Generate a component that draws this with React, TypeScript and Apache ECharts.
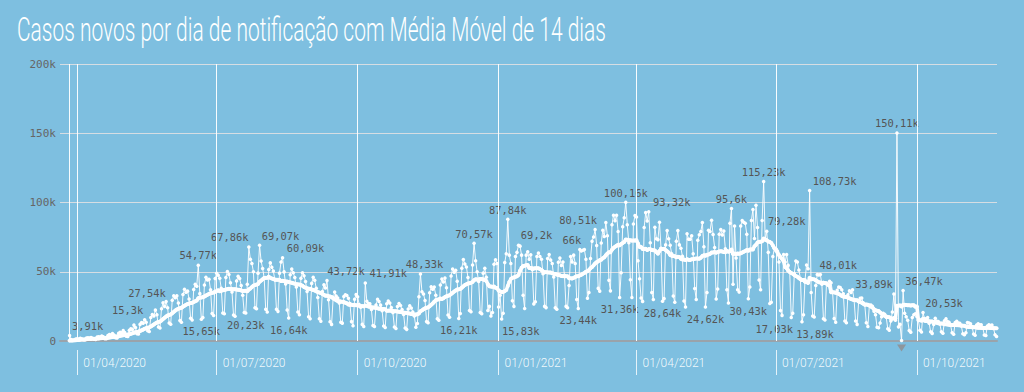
import React, { useEffect, useRef } from "react";
import * as echarts from "echarts";

// ---------------- data ----------------
const TITLE = "Casos novos por dia de notificação com Média Móvel de 14 dias";
const FIRST_DAY = "2020-03-27";
const AVG_WINDOW = 14;

// daily new cases, in thousands, one row per week (Fri..Thu), from 27/03/2020
const dailyCasesK: number[] = [
  3.91, 1.0, 0.6, 0.8, 1.4, 1.6, 1.5,
  1.9, 1.5, 0.9, 1.0, 2.1, 2.3, 2.1,
  2.5, 2.0, 1.2, 1.1, 2.8, 3.0, 2.9,
  3.6, 3.0, 1.7, 1.6, 4.0, 4.6, 4.3,
  5.4, 4.4, 2.4, 2.2, 5.5, 6.3, 6.0,
  7.6, 6.2, 3.4, 3.2, 7.7, 8.9, 8.3,
  11.6, 9.8, 5.2, 5.0, 12.0, 13.4, 12.8,
  15.3, 13.6, 7.4, 6.9, 17.0, 19.2, 18.1,
  22.3, 19.0, 10.1, 9.4, 23.3, 27.54, 25.0,
  28.5, 24.0, 13.0, 12.1, 29.4, 32.6, 31.3,
  32.7, 27.5, 14.8, 13.6, 33.5, 37.4, 35.2,
  36.0, 30.4, 16.4, 15.1, 37.2, 41.0, 39.5,
  54.77, 34.2, 15.65, 17.0, 40.5, 46.0, 44.1,
  44.5, 37.0, 19.8, 18.4, 45.1, 48.9, 47.5,
  45.3, 38.0, 20.2, 19.6, 45.9, 50.2, 48.0,
  42.0, 35.4, 18.7, 17.9, 43.4, 46.8, 45.2,
  40.0, 33.0, 20.6, 20.23, 41.0, 67.86, 59.0,
  55.9, 50.0, 24.0, 23.3, 49.0, 69.07, 57.8,
  52.4, 45.7, 23.0, 21.0, 51.6, 56.4, 53.3,
  50.5, 44.0, 23.0, 21.4, 49.0, 57.0, 60.09,
  49.9, 41.2, 22.4, 16.64, 47.8, 52.0, 49.3,
  45.8, 39.0, 21.0, 19.0, 45.3, 49.3, 47.1,
  43.0, 35.8, 17.5, 16.0, 41.6, 46.0, 43.8,
  38.0, 31.4, 16.0, 14.3, 35.8, 40.6, 38.2,
  43.72, 29.8, 13.9, 12.0, 30.5, 35.3, 32.4,
  31.0, 27.5, 13.6, 12.9, 32.1, 33.4, 32.8,
  30.9, 27.0, 14.0, 11.0, 30.2, 33.5, 31.9,
  26.4, 24.3, 12.0, 10.5, 41.91, 28.7, 27.1,
  26.9, 22.8, 11.2, 10.4, 26.0, 30.1, 28.5,
  25.9, 21.8, 10.8, 9.7, 26.9, 28.8, 27.5,
  24.2, 20.5, 10.1, 9.0, 24.9, 27.0, 25.7,
  22.7, 19.2, 9.4, 8.4, 23.1, 25.4, 23.9,
  21.0, 18.0, 10.0, 12.6, 32.0, 48.33, 35.5,
  34.0, 29.3, 14.0, 13.1, 34.9, 39.1, 37.3,
  39.0, 33.0, 16.1, 15.0, 40.5, 44.7, 42.6,
  45.5, 38.4, 18.7, 17.2, 47.0, 52.0, 49.7,
  51.1, 43.2, 16.21, 19.9, 52.6, 58.9, 55.6,
  53.5, 45.9, 22.0, 21.1, 54.8, 70.57, 58.0,
  50.0, 42.9, 20.5, 19.6, 49.0, 52.5, 46.0,
  22.0, 25.0, 18.0, 20.5, 55.4, 58.7, 56.0,
  24.6, 33.1, 15.83, 20.0, 56.6, 63.0, 87.84,
  62.0, 56.0, 29.0, 25.0, 61.0, 64.0, 69.2,
  68.5, 62.0, 33.0, 23.5, 62.0, 64.4, 59.0,
  62.2, 51.4, 26.8, 28.3, 61.0, 63.5, 61.0,
  59.0, 48.5, 25.0, 24.1, 59.6, 62.5, 58.5,
  56.0, 46.2, 24.0, 23.0, 56.9, 59.9, 54.5,
  57.0, 47.5, 25.0, 24.0, 40.0, 61.0, 57.0,
  62.0, 56.0, 30.0, 23.44, 66.0, 65.0, 65.5,
  66.0, 59.0, 30.8, 35.0, 59.6, 72.0, 75.1,
  80.51, 69.0, 38.0, 36.0, 70.8, 79.9, 75.4,
  85.6, 76.0, 43.8, 36.2, 84.0, 90.8, 86.9,
  90.8, 79.1, 31.36, 49.3, 82.5, 89.0, 100.16,
  84.0, 71.0, 44.3, 31.4, 84.5, 90.6, 89.5,
  58.0, 45.0, 31.0, 28.6, 82.0, 92.7, 86.7,
  93.32, 71.0, 35.0, 30.0, 82.2, 73.8, 73.2,
  85.8, 67.0, 28.64, 30.6, 69.4, 79.7, 73.9,
  69.1, 63.0, 32.5, 28.0, 72.1, 79.7, 69.4,
  67.0, 61.1, 28.9, 24.6, 77.4, 73.4, 73.4,
  76.0, 63.0, 37.9, 30.0, 72.7, 76.7, 79.0,
  85.5, 68.0, 24.62, 35.0, 80.0, 79.0, 87.2,
  76.9, 67.5, 30.3, 37.5, 77.0, 80.5, 76.5,
  79.4, 66.6, 37.0, 27.5, 85.0, 95.6, 41.0,
  83.0, 60.0, 37.0, 35.3, 83.0, 87.0, 85.7,
  85.0, 77.0, 30.43, 39.0, 87.0, 95.0, 74.0,
  98.0, 82.0, 44.0, 37.0, 87.0, 115.23, 73.6,
  79.28, 64.0, 27.0, 28.0, 61.0, 67.0, 65.2,
  65.0, 57.0, 22.0, 18.5, 62.5, 57.0, 62.4,
  54.6, 50.0, 17.03, 20.0, 48.8, 57.7, 57.1,
  51.2, 45.0, 13.89, 18.9, 44.2, 54.8, 52.2,
  108.73, 35.0, 18.0, 17.4, 40.0, 48.01, 47.6,
  48.0, 41.0, 16.1, 15.2, 41.2, 40.7, 43.1,
  42.0, 35.0, 16.2, 13.6, 36.7, 39.0, 38.6,
  37.0, 34.1, 14.4, 13.1, 33.4, 36.3, 35.0,
  37.0, 30.0, 14.4, 12.0, 28.4, 30.9, 31.0,
  27.6, 26.0, 13.2, 10.5, 25.6, 26.0, 25.1,
  21.5, 19.0, 10.0, 9.5, 13.0, 17.5, 20.0,
  19.3, 17.2, 8.8, 7.7, 14.4, 20.9, 33.89,
  15.0, 150.11, 10.2, 12.0, 0.4, 36.47, 20.0,
  17.5, 15.0, 7.6, 6.4, 16.9, 19.0, 19.6,
  17.6, 14.8, 7.8, 6.5, 20.53, 16.2, 15.9,
  17.0, 12.9, 6.6, 5.5, 12.0, 16.4, 14.3,
  14.0, 12.2, 6.6, 5.6, 14.6, 16.0, 14.0,
  13.5, 11.4, 5.9, 4.9, 13.3, 14.3, 13.0,
  12.8, 10.9, 5.2, 4.5, 6.0, 13.3, 13.0,
  12.4, 10.5, 5.0, 4.2, 11.6, 12.4, 11.8,
  11.8, 9.8, 4.4, 4.0, 10.9, 11.7, 11.2,
  11.5, 9.3, 4.5, 3.2,
];

const tickDates = ["2020-04-01", "2020-07-01", "2020-10-01", "2021-01-01", "2021-04-01", "2021-07-01", "2021-10-01"];
const yTicks = [0, 50, 100, 150, 200];

// days whose value is written on the chart
const labelledDates = [
  "2020-03-27", "2020-05-15", "2020-05-27", "2020-06-19", "2020-06-21", "2020-07-20", "2020-07-22",
  "2020-07-29", "2020-08-13", "2020-08-17", "2020-09-11", "2020-10-06", "2020-11-11", "2020-12-06",
  "2020-12-16", "2021-01-03", "2021-01-07", "2021-01-14", "2021-02-22", "2021-02-23", "2021-03-05",
  "2021-03-21", "2021-03-25", "2021-04-09", "2021-04-18", "2021-05-16", "2021-06-02", "2021-06-13",
  "2021-06-23", "2021-06-25", "2021-07-11", "2021-07-18", "2021-07-23", "2021-07-28", "2021-09-16",
  "2021-09-18", "2021-09-22", "2021-10-05",
];
const noteDate = "2021-09-21";

// ---------------- label styling ----------------
const labelsBelow = new Set([
  "2020-06-21", "2020-07-20", "2020-08-17", "2020-12-06", "2021-01-03", "2021-02-22",
  "2021-03-21", "2021-04-18", "2021-05-16", "2021-06-13", "2021-07-11", "2021-07-18",
]);
const labelShiftX: Record<string, number> = {
  "2020-03-27": 18, "2020-05-15": -17, "2020-05-27": -16, "2020-07-22": -19, "2020-07-29": 21,
  "2020-08-13": 23, "2020-09-11": 19, "2020-10-06": 23, "2020-11-11": 4, "2021-01-03": 19,
  "2021-01-14": 18, "2021-02-23": -8, "2021-03-05": -17, "2021-04-09": 23, "2021-06-25": 20,
  "2021-07-11": -17, "2021-07-18": 13, "2021-07-23": 25, "2021-07-28": 21, "2021-09-16": -20,
  "2021-09-22": 21, "2021-10-05": 21,
};

const DAY = 86400000;
const toTime = (s: string) => {
  const [y, m, d] = s.split("-").map(Number);
  return Date.UTC(y, m - 1, d);
};
const X_MIN = Date.UTC(2020, 2, 20, 18);
const X_MAX = Date.UTC(2021, 10, 22, 7);

const fmtK = (v: number) => String(Math.round(v * 100) / 100).replace(".", ",") + "k";
const pad = (n: number) => (n < 10 ? "0" + n : String(n));
const fmtDate = (t: number) => {
  const d = new Date(t);
  return `${pad(d.getUTCDate())}/${pad(d.getUTCMonth() + 1)}/${d.getUTCFullYear()}`;
};

const LABEL_FONT = "'DejaVu Sans Mono', monospace";

export default function App() {
  const ref = useRef<HTMLDivElement>(null);

  useEffect(() => {
    document.body.style.margin = "0";
    if (!ref.current) return;
    const chart = echarts.init(ref.current, undefined, { renderer: "svg" });

    const t0 = toTime(FIRST_DAY);
    const labelByTime = new Map(labelledDates.map((s) => [toTime(s), s]));

    const daily = dailyCasesK.map((v, i) => {
      const t = t0 + i * DAY;
      const key = labelByTime.get(t);
      if (!key) return [t, v];
      const below = labelsBelow.has(key);
      return {
        value: [t, v],
        label: {
          show: true,
          position: below ? "bottom" : "top",
          distance: below ? 5 : 3,
          offset: [labelShiftX[key] ?? 0, 0],
        },
      };
    });

    const avg = dailyCasesK.map((_, i) => {
      let s = 0;
      for (let j = Math.max(0, i - AVG_WINDOW + 1); j <= i; j++) s += dailyCasesK[j];
      return [t0 + i * DAY, s / AVG_WINDOW];
    });

    const tickTimes = tickDates.map(toTime);

    // condense the title font to the reference width
    const ctx = document.createElement("canvas").getContext("2d");
    let sx = 0.62;
    if (ctx) {
      ctx.font = "300 34px Roboto";
      const w = ctx.measureText(TITLE).width;
      if (w > 0) sx = 589 / w;
    }

    chart.setOption({
      animation: false,
      backgroundColor: "#7ebfe0",
      graphic: [
        {
          type: "text",
          x: 17,
          y: 30,
          scaleX: sx,
          style: {
            text: TITLE,
            fontFamily: "Roboto",
            fontWeight: 300,
            fontSize: 34,
            fill: "#ffffff",
            verticalAlign: "middle",
          },
        },
      ],
      grid: { left: 60, right: 27, top: 64, bottom: 51 },
      xAxis: [
        {
          type: "value",
          min: X_MIN,
          max: X_MAX,
          axisLine: { show: true, onZero: false, lineStyle: { color: "#9aa3ab", width: 2 } },
          axisTick: { show: false },
          axisLabel: { show: false },
          splitLine: { show: false },
        },
        {
          type: "value",
          min: X_MIN,
          max: X_MAX,
          position: "bottom",
          offset: 9,
          axisLine: { show: false, onZero: false },
          axisTick: {
            show: true,
            customValues: tickTimes,
            length: 25,
            lineStyle: { color: "rgba(255,255,255,0.8)", width: 1 },
          },
          axisLabel: {
            show: true,
            customValues: tickTimes,
            formatter: (v: number) => fmtDate(v),
            align: "left",
            margin: 7,
            padding: [0, 0, 0, 6],
            color: "rgba(255,255,255,0.92)",
            fontFamily: "Roboto",
            fontWeight: 300,
            fontSize: 12,
          },
          splitLine: { show: false },
        },
      ],
      yAxis: {
        type: "value",
        min: yTicks[0],
        max: yTicks[yTicks.length - 1],
        interval: yTicks[1] - yTicks[0],
        axisLine: { show: false },
        axisTick: { show: false },
        axisLabel: {
          margin: 4,
          color: "#666",
          fontFamily: LABEL_FONT,
          fontSize: 11,
          formatter: (v: number) => (v === 0 ? "0" : v + "k"),
        },
        splitLine: { lineStyle: { color: "#d6dde3", width: 1 } },
      },
      series: [
        {
          name: "Casos novos",
          type: "line",
          data: daily,
          symbol: "circle",
          symbolSize: 3.5,
          showSymbol: true,
          lineStyle: { color: "rgba(255,255,255,0.92)", width: 1 },
          itemStyle: { color: "#ffffff" },
          emphasis: { disabled: true },
          z: 2,
          label: {
            show: false,
            color: "#555",
            fontFamily: LABEL_FONT,
            fontSize: 10.4,
            formatter: (p: any) => fmtK(p.value[1]),
          },
          markLine: {
            silent: true,
            symbol: ["none", "none"],
            label: { show: false },
            lineStyle: { color: "rgba(255,255,255,0.95)", width: 1, type: "solid" },
            emphasis: { disabled: true },
            data: [FIRST_DAY, ...tickDates].map((s) => ({ xAxis: toTime(s) })),
          },
          markPoint: {
            silent: true,
            data: [
              {
                coord: [toTime(noteDate), 0],
                symbol: "triangle",
                symbolRotate: 180,
                symbolSize: [9, 7],
                symbolOffset: [0, 7],
                itemStyle: { color: "#8d969d" },
                label: { show: false },
              },
            ],
          },
        },
        {
          name: "Média Móvel 14 dias",
          type: "line",
          data: avg,
          symbol: "circle",
          symbolSize: 4,
          showSymbol: true,
          lineStyle: { color: "#ffffff", width: 3.5 },
          itemStyle: { color: "#ffffff" },
          emphasis: { disabled: true },
          z: 3,
        },
      ],
    });

    return () => chart.dispose();
  }, []);

  return <div ref={ref} style={{ width: 1024, height: 392 }} />;
}
